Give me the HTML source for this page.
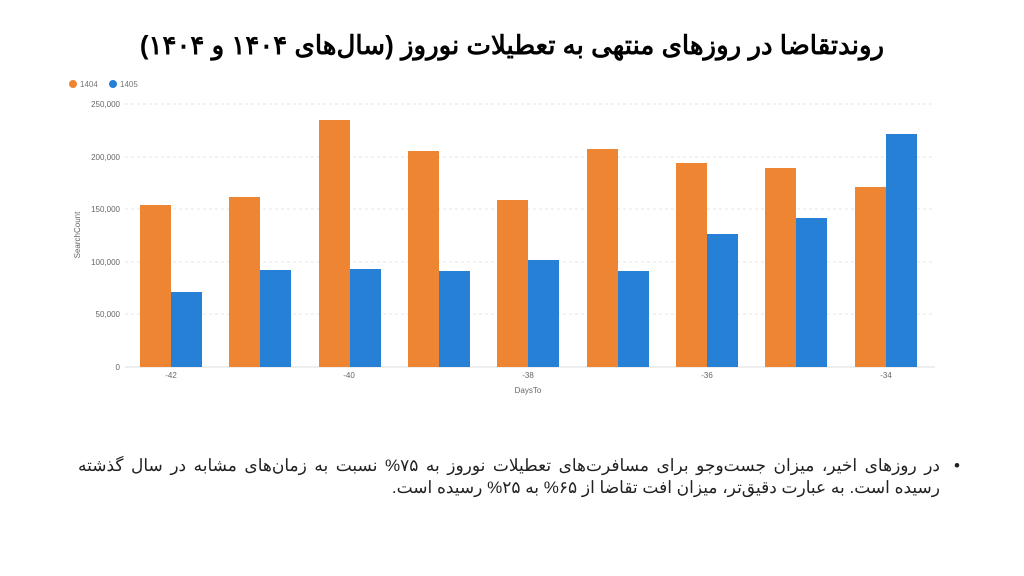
<!DOCTYPE html>
<html><head><meta charset="utf-8"><style>
body{margin:0;width:1024px;height:576px;background:#fff;overflow:hidden;position:relative;font-family:"Liberation Sans","Noto Sans CJK SC",sans-serif}
.title{position:absolute;top:30px;left:0;width:1024px;text-align:center;font-size:26px;font-weight:bold;direction:rtl;color:#000}
.txt{position:absolute;top:455px;right:84px;width:862px;direction:rtl;text-align:right;font-size:17px;line-height:22px;color:#222}
.txt:before{content:"•";position:absolute;right:-20px}
.l1{text-align:justify;text-align-last:justify;white-space:nowrap}
</style></head><body>
<div class="title">روندتقاضا در روزهای منتهی به تعطیلات نوروز (سال‌های ۱۴۰۴ و ۱۴۰۴)</div>
<svg width="1024" height="576" style="position:absolute;left:0;top:0" font-family="Liberation Sans, sans-serif">
<circle cx="73" cy="84" r="4" fill="#ee8533"/><text x="80" y="87" font-size="8" fill="#777">1404</text>
<circle cx="113" cy="84" r="4" fill="#2680d6"/><text x="120" y="87" font-size="8" fill="#777">1405</text>
<g stroke="#e6e6e6" stroke-dasharray="3,3" stroke-width="1">
<line x1="125" x2="935" y1="104" y2="104"/><line x1="125" x2="935" y1="157" y2="157"/><line x1="125" x2="935" y1="209" y2="209"/><line x1="125" x2="935" y1="262" y2="262"/><line x1="125" x2="935" y1="314" y2="314"/></g>
<line x1="125" x2="935" y1="367" y2="367" stroke="#ddd"/>
<g font-size="8" fill="#666" text-anchor="end">
<text x="120" y="107">250,000</text><text x="120" y="160">200,000</text><text x="120" y="212">150,000</text><text x="120" y="265">100,000</text><text x="120" y="317">50,000</text><text x="120" y="370">0</text></g>
<text x="80" y="235" font-size="8" fill="#666" text-anchor="middle" transform="rotate(-90 80 235)">SearchCount</text>
<g font-size="8" fill="#666" text-anchor="middle">
<text x="171" y="378">-42</text><text x="349" y="378">-40</text><text x="528" y="378">-38</text><text x="707" y="378">-36</text><text x="886" y="378">-34</text>
<text x="528" y="393">DaysTo</text></g>
<g fill="#ee8533">
<rect x="140" y="205" width="31" height="162"/><rect x="229" y="197" width="31" height="170"/><rect x="319" y="120" width="31" height="247"/><rect x="408" y="151" width="31" height="216"/><rect x="497" y="200" width="31" height="167"/><rect x="587" y="149" width="31" height="218"/><rect x="676" y="163" width="31" height="204"/><rect x="765" y="168" width="31" height="199"/><rect x="855" y="187" width="31" height="180"/></g>
<g fill="#2680d6">
<rect x="171" y="292" width="31" height="75"/><rect x="260" y="270" width="31" height="97"/><rect x="350" y="269" width="31" height="98"/><rect x="439" y="271" width="31" height="96"/><rect x="528" y="260" width="31" height="107"/><rect x="618" y="271" width="31" height="96"/><rect x="707" y="234" width="31" height="133"/><rect x="796" y="218" width="31" height="149"/><rect x="886" y="134" width="31" height="233"/></g>
</svg>
<div class="txt"><div class="l1">در روزهای اخیر، میزان جست‌وجو برای مسافرت‌های تعطیلات نوروز به ۷۵% نسبت به زمان‌های مشابه در سال گذشته</div><div>رسیده است. به عبارت دقیق‌تر، میزان افت تقاضا از ۶۵% به ۲۵% رسیده است.</div></div>
</body></html>
